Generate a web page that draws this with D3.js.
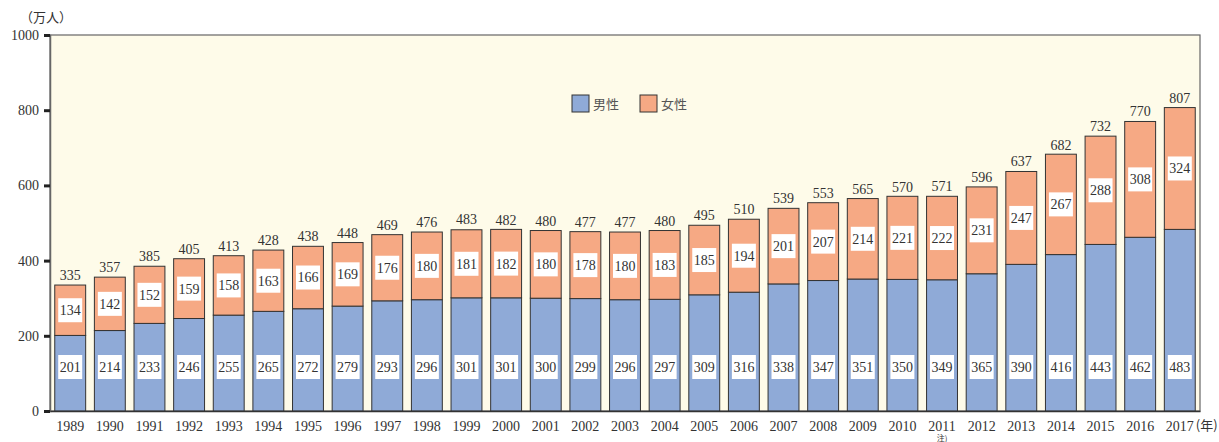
<!DOCTYPE html>
<html>
<head>
<meta charset="utf-8">
<script src="https://cdn.jsdelivr.net/npm/d3@7"></script>
<style>
body { margin: 0; background: #fff; }
</style>
</head>
<body>
<div id="chart"></div>
<script>
const years = ['1989','1990','1991','1992','1993','1994','1995','1996','1997','1998','1999','2000','2001','2002','2003','2004','2005','2006','2007','2008','2009','2010','2011','2012','2013','2014','2015','2016','2017'];
const male = [201,214,233,246,255,265,272,279,293,296,301,301,300,299,296,297,309,316,338,347,351,350,349,365,390,416,443,462,483];
const female = [134,142,152,159,158,163,166,169,176,180,181,182,180,178,180,183,185,194,201,207,214,221,222,231,247,267,288,308,324];
const totals = [335,357,385,405,413,428,438,448,469,476,483,482,480,477,477,480,495,510,539,553,565,570,571,596,637,682,732,770,807];
const yTicks = [0,200,400,600,800,1000];

const width = 1219, height = 442;
const margin = { top: 35, left: 50, bottom: 31, right: 19 };
const maleColor = '#8faad7', femaleColor = '#f6a984';
const serif = '"Liberation Serif", "DejaVu Serif", serif';
const jp = '"Noto Sans CJK JP", sans-serif';

const svg = d3.select('#chart').append('svg')
	.attr('width', width)
	.attr('height', height);

const x = d3.scaleBand()
	.domain(years)
	.range([margin.left, width - margin.right])
	.paddingInner(0.22)
	.paddingOuter(0.12);

const y = d3.scaleLinear()
	.domain([0, 1000])
	.range([height - margin.bottom, margin.top]);

// plot background
svg.append('rect')
	.attr('x', margin.left)
	.attr('y', y(1000))
	.attr('width', width - margin.right - margin.left)
	.attr('height', y(0) - y(1000))
	.attr('fill', '#fefbe9')
	.attr('stroke', '#666')
	.attr('stroke-width', 1.2);

const data = years.map((yr, i) => ({ yr, m: male[i], f: female[i], t: totals[i] }));

const g = svg.append('g').attr('font-family', serif).attr('fill', '#333');

// male bars
g.selectAll('rect.m').data(data).enter().append('rect')
	.attr('class', 'm')
	.attr('x', d => x(d.yr))
	.attr('y', d => y(d.m))
	.attr('width', x.bandwidth())
	.attr('height', d => y(0) - y(d.m))
	.attr('fill', maleColor)
	.attr('stroke', '#333')
	.attr('stroke-width', 1);

// female bars
g.selectAll('rect.f').data(data).enter().append('rect')
	.attr('class', 'f')
	.attr('x', d => x(d.yr))
	.attr('y', d => y(d.m + d.f))
	.attr('width', x.bandwidth())
	.attr('height', d => y(d.m) - y(d.m + d.f))
	.attr('fill', femaleColor)
	.attr('stroke', '#333')
	.attr('stroke-width', 1);

// value labels with white boxes
function boxLabel(sel, cy, val) {
	sel.each(function (d) {
		const cx = x(d.yr) + x.bandwidth() / 2;
		const yy = cy(d);
		const gg = d3.select(this);
		gg.append('rect')
			.attr('x', cx - 12)
			.attr('y', yy - 12)
			.attr('width', 24)
			.attr('height', 24)
			.attr('fill', '#fff');
		gg.append('text')
			.attr('x', cx)
			.attr('y', yy)
			.attr('dy', '0.35em')
			.attr('text-anchor', 'middle')
			.attr('font-size', 14)
			.attr('fill', '#333')
			.text(val(d));
	});
}

g.selectAll('g.ml').data(data).enter().append('g').attr('class', 'ml')
	.call(boxLabel, d => y(0) - 44, d => d.m);
g.selectAll('g.fl').data(data).enter().append('g').attr('class', 'fl')
	.call(boxLabel, d => (y(d.m) + y(d.m + d.f)) / 2, d => d.f);

// totals
g.selectAll('text.t').data(data).enter().append('text')
	.attr('class', 't')
	.attr('x', d => x(d.yr) + x.bandwidth() / 2)
	.attr('y', d => y(d.t) - 5)
	.attr('text-anchor', 'middle')
	.attr('font-size', 14)
	.attr('fill', '#333')
	.text(d => d.t);

// y axis
const yAxis = svg.append('g')
	.attr('transform', `translate(${margin.left},0)`)
	.call(d3.axisLeft(y).tickValues(yTicks).tickFormat(d3.format('d')).tickSize(6).tickPadding(5));
yAxis.attr('font-family', serif);
yAxis.select('.domain').attr('stroke', '#666').attr('stroke-width', 1.5);
yAxis.selectAll('.tick line').attr('stroke', '#222').attr('stroke-width', 3);
yAxis.selectAll('.tick text').attr('font-size', 14).attr('fill', '#333');

// x axis
const xAxis = svg.append('g')
	.attr('transform', `translate(0,${y(0)})`)
	.call(d3.axisBottom(x).tickSize(0).tickPadding(10));
xAxis.attr('font-family', serif);
xAxis.select('.domain').attr('stroke', '#333').attr('stroke-width', 1.5);
xAxis.selectAll('.tick text').attr('font-size', 14).attr('fill', '#333');

svg.append('text')
	.attr('font-family', jp)
	.attr('fill', '#333')
	.attr('x', x('2017') + x.bandwidth() / 2 + 16)
	.attr('y', y(0) + 19)
	.attr('font-size', 13)
	.text('(年)');

svg.append('text')
	.attr('font-family', jp)
	.attr('fill', '#333')
	.attr('x', x('2011') + x.bandwidth() / 2)
	.attr('y', height - 1)
	.attr('text-anchor', 'middle')
	.attr('font-size', 8)
	.text('注)');

svg.append('text')
	.attr('font-family', jp)
	.attr('fill', '#333')
	.attr('x', 20)
	.attr('y', 22)
	.attr('font-size', 13)
	.text('（万人）');

// legend
const legend = svg.append('g').attr('transform', 'translate(572,95)');
[['男性', maleColor], ['女性', femaleColor]].forEach(([lbl, c], i) => {
	const lg = legend.append('g').attr('transform', `translate(${i * 68},0)`);
	lg.append('rect')
		.attr('width', 17)
		.attr('height', 17)
		.attr('fill', c)
		.attr('stroke', '#333');
	lg.append('text')
		.attr('font-family', jp)
		.attr('x', 21)
		.attr('y', 9)
		.attr('dy', '0.35em')
		.attr('font-size', 13)
		.attr('fill', '#555')
		.text(lbl);
});
</script>
</body>
</html>
